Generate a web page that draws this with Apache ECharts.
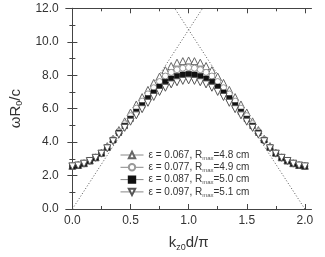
<!DOCTYPE html>
<html>
<head>
<meta charset="utf-8">
<script src="https://cdn.jsdelivr.net/npm/echarts@6/dist/echarts.min.js"></script>
<style>
  html, body { margin: 0; padding: 0; background: #fff; }
  #chart { width: 325px; height: 257px; }
</style>
</head>
<body>
<div id="chart"></div>
<script>
// k_z0 d / pi sample points
const xs = [0, 0.05, 0.1, 0.15, 0.2, 0.25, 0.3, 0.35, 0.4, 0.45, 0.5, 0.55, 0.6, 0.65, 0.7, 0.75, 0.8, 0.85, 0.9, 0.95,
  1.0, 1.05, 1.1, 1.15, 1.2, 1.25, 1.3, 1.35, 1.4, 1.45, 1.5, 1.55, 1.6, 1.65, 1.7, 1.75, 1.8, 1.85, 1.9, 1.95, 2.0];

// omega R0 / c for each epsilon
const eps067 = [2.58, 2.63, 2.74, 2.9, 3.09, 3.37, 3.76, 4.2, 4.72, 5.24, 5.77, 6.25, 6.69, 7.12, 7.54, 7.92, 8.3, 8.55, 8.75, 8.84,
  8.88, 8.84, 8.75, 8.55, 8.3, 7.92, 7.54, 7.12, 6.69, 6.25, 5.77, 5.24, 4.72, 4.2, 3.76, 3.37, 3.09, 2.9, 2.74, 2.63, 2.58];
const eps077 = [2.57, 2.62, 2.73, 2.89, 3.08, 3.35, 3.71, 4.15, 4.64, 5.1, 5.58, 6.03, 6.45, 6.88, 7.25, 7.62, 7.95, 8.17, 8.33, 8.42,
  8.46, 8.42, 8.33, 8.17, 7.95, 7.62, 7.25, 6.88, 6.45, 6.03, 5.58, 5.1, 4.64, 4.15, 3.71, 3.35, 3.08, 2.89, 2.73, 2.62, 2.57];
const eps087 = [2.56, 2.61, 2.72, 2.88, 3.07, 3.33, 3.67, 4.12, 4.56, 4.97, 5.39, 5.81, 6.2, 6.62, 6.96, 7.31, 7.6, 7.79, 7.94, 8.03,
  8.07, 8.03, 7.94, 7.79, 7.6, 7.31, 6.96, 6.62, 6.2, 5.81, 5.39, 4.97, 4.56, 4.12, 3.67, 3.33, 3.07, 2.88, 2.72, 2.61, 2.56];
const eps097 = [2.55, 2.6, 2.71, 2.87, 3.06, 3.31, 3.63, 4.05, 4.45, 4.85, 5.22, 5.6, 5.97, 6.35, 6.7, 7.0, 7.25, 7.45, 7.58, 7.66,
  7.69, 7.66, 7.58, 7.45, 7.25, 7.0, 6.7, 6.35, 5.97, 5.6, 5.22, 4.85, 4.45, 4.05, 3.63, 3.31, 3.06, 2.87, 2.71, 2.6, 2.55];

// light lines (dotted)
const lightUp = [[0, 0], [1.12, 12]];
const lightDown = [[2, 0], [0.88, 12]];

const epsLabels = ['0.067', '0.077', '0.087', '0.097'];
const rmaxLabels = ['4.8', '4.9', '5.0', '5.1'];

const xMajor = [0, 0.5, 1.0, 1.5, 2.0];
const xMinor = [0.25, 0.75, 1.25, 1.75];

const FONT = '"Liberation Sans", Arial, sans-serif';
const names = epsLabels.map((e, i) => 'ε = ' + e + ', Rmax=' + rmaxLabels[i] + ' cm');
const zip = (ys) => xs.map((x, i) => [x, ys[i]]);

const downTri = 'path://M0,0 L10,0 L5,9 Z';

function markerSeries(name, ys, symbol, size, itemStyle) {
  return {
    name: name,
    type: 'line',
    data: zip(ys),
    symbol: symbol,
    symbolSize: size,
    showAllSymbol: true,
    lineStyle: { opacity: 0 },
    itemStyle: itemStyle,
    emphasis: { disabled: true },
    animation: false,
  };
}

function dotted(data) {
  return {
    type: 'line',
    data: data,
    symbol: 'none',
    lineStyle: { color: '#555', width: 1, type: [1, 2] },
    silent: true,
    animation: false,
  };
}

const chart = echarts.init(document.getElementById('chart'), null, { renderer: 'canvas' });

const xBase = { type: 'value', min: -0.057, max: 2.057, splitLine: { show: false } };
const yBase = { type: 'value', min: 0, max: 12, interval: 2, splitLine: { show: false } };

const option = {
  backgroundColor: '#fff',
  textStyle: { fontFamily: FONT },
  grid: { left: 57, right: 13.5, top: 8.3, bottom: 40.3 },
  xAxis: [
    Object.assign({}, xBase, {
      position: 'bottom',
      axisLine: { lineStyle: { color: '#444', width: 1 } },
      axisTick: { inside: true, length: 5, customValues: xMajor, lineStyle: { color: '#444' } },
      axisLabel: { customValues: xMajor, formatter: (v) => v.toFixed(1), color: '#333', fontSize: 12, margin: 6, fontFamily: FONT },
      name: '{t|k}{s|z0}{t|d/π}',
      nameLocation: 'middle',
      nameGap: 25,
      nameTextStyle: {
        rich: {
          t: { fontSize: 15, color: '#333', fontFamily: FONT, lineHeight: 18 },
          s: { fontSize: 9, color: '#333', fontFamily: FONT, lineHeight: 18, verticalAlign: 'bottom', padding: [6, 0, 0, 0] },
        },
      },
    }),
    Object.assign({}, xBase, {
      position: 'bottom',
      axisLine: { show: false },
      axisTick: { inside: true, length: 3, customValues: xMinor, lineStyle: { color: '#444' } },
      axisLabel: { show: false },
    }),
    Object.assign({}, xBase, {
      position: 'top',
      axisLine: { lineStyle: { color: '#444', width: 1 } },
      axisTick: { inside: true, length: 5, customValues: xMajor, lineStyle: { color: '#444' } },
      axisLabel: { show: false },
    }),
    Object.assign({}, xBase, {
      position: 'top',
      axisLine: { show: false },
      axisTick: { inside: true, length: 3, customValues: xMinor, lineStyle: { color: '#444' } },
      axisLabel: { show: false },
    }),
  ],
  yAxis: [
    Object.assign({}, yBase, {
      position: 'left',
      axisLine: { lineStyle: { color: '#444', width: 1 } },
      axisTick: { inside: true, length: 5, lineStyle: { color: '#444' } },
      minorTick: { show: true, splitNumber: 2, length: 3, lineStyle: { color: '#444' } },
      axisLabel: { formatter: (v) => v.toFixed(1), color: '#333', fontSize: 12, margin: 7, fontFamily: FONT },
      name: '{t|ωR}{s|0}{t|/c}',
      nameLocation: 'middle',
      nameGap: 36,
      nameTextStyle: {
        rich: {
          t: { fontSize: 15, color: '#333', fontFamily: FONT, lineHeight: 18 },
          s: { fontSize: 9, color: '#333', fontFamily: FONT, lineHeight: 18, verticalAlign: 'bottom', padding: [6, 0, 0, 0] },
        },
      },
    }),
    Object.assign({}, yBase, {
      position: 'right',
      axisLine: { lineStyle: { color: '#444', width: 1 } },
      axisTick: { inside: true, length: 5, lineStyle: { color: '#444' } },
      minorTick: { show: true, splitNumber: 2, length: 3, lineStyle: { color: '#444' } },
      axisLabel: { show: false },
    }),
  ],
  legend: {
    orient: 'vertical',
    left: 120,
    top: 150,
    padding: 0,
    itemWidth: 23,
    itemHeight: 8,
    itemGap: 1.3,
    selectedMode: false,
    data: names,
    lineStyle: { color: '#888', width: 1, opacity: 1 },
    formatter: (name) => {
      const i = names.indexOf(name);
      return '{t|ε = ' + epsLabels[i] + ', R}{s|max}{t|=' + rmaxLabels[i] + ' cm}';
    },
    textStyle: {
      padding: [0, 0, 0, 0],
      rich: {
        t: { fontSize: 10, color: '#333', fontFamily: FONT, lineHeight: 12 },
        s: { fontSize: 6, color: '#555', fontFamily: FONT, lineHeight: 12, verticalAlign: 'bottom', padding: [4, 0, 0, 0] },
      },
    },
  },
  series: [
    dotted(lightUp),
    dotted(lightDown),
    markerSeries(names[0], eps067, 'triangle', 7, { color: '#fff', borderColor: '#666', borderWidth: 1 }),
    markerSeries(names[1], eps077, 'circle', 6, { color: '#fff', borderColor: '#999', borderWidth: 1 }),
    markerSeries(names[2], eps087, 'rect', 5.5, { color: '#111', borderColor: '#111', borderWidth: 0.5 }),
    markerSeries(names[3], eps097, downTri, 7, { color: '#fff', borderColor: '#555', borderWidth: 1 }),
  ],
};

chart.setOption(option);
</script>
</body>
</html>
